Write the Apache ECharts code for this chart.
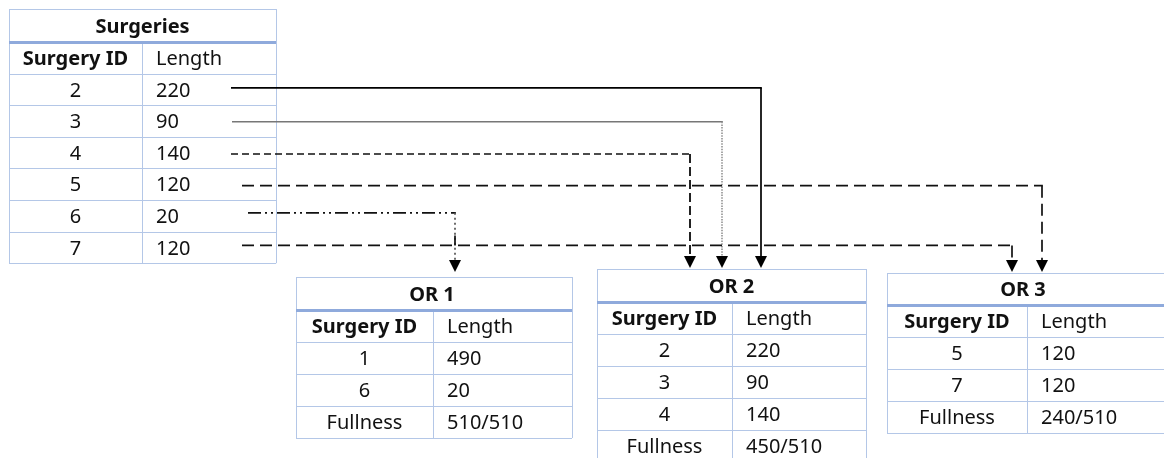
<!DOCTYPE html>
<html><head><meta charset="utf-8">
<script src="https://cdn.jsdelivr.net/npm/echarts@6/dist/echarts.min.js"></script>
<style>html,body{margin:0;padding:0;background:#fff}#c{width:1164px;height:458px}</style>
</head><body><div id="c"></div>
<script>
// ---------------- data ----------------
const surgeryIds = ['2', '3', '4', '5', '6', '7'];
const surgeryLengths = [220, 90, 140, 120, 20, 120];
const orNames = ['OR 1', 'OR 2', 'OR 3'];
const or1Ids = ['1', '6'];
const or1Lengths = [490, 20];
const or2Ids = ['2', '3', '4'];
const or2Lengths = [220, 90, 140];
const or3Ids = ['5', '7'];
const or3Lengths = [120, 120];
const orFullness = ['510/510', '450/510', '240/510'];
const assignedOR = [1, 1, 1, 2, 0, 2];       // surgery -> OR index
const headerLabels = ['Surgery ID', 'Length'];
const fullnessLabel = 'Fullness';
const surgeriesTitle = 'Surgeries';

// ---------------- layout / style ----------------
const tableLayout = [
  { left: 9,   right: 276,  col: 142,  top: 9,   titleH: 33, rowH: 31.6 },
  { left: 296, right: 572,  col: 433,  top: 277, titleH: 33, rowH: 32 },
  { left: 597, right: 866,  col: 732,  top: 269, titleH: 33, rowH: 32 },
  { left: 887, right: 1175, col: 1027, top: 273, titleH: 32, rowH: 32 }
];
const tableContent = [
  { title: surgeriesTitle, ids: surgeryIds, lens: surgeryLengths, full: null },
  { title: orNames[0], ids: or1Ids, lens: or1Lengths, full: orFullness[0] },
  { title: orNames[1], ids: or2Ids, lens: or2Lengths, full: orFullness[1] },
  { title: orNames[2], ids: or3Ids, lens: or3Lengths, full: orFullness[2] }
];
const connLayout = [
  { startX: 231, turnX: 761,  dy: -1.5, gap: 1, tick: false, h: { c: '#000', w: 1.7, d: null },          v: { c: '#000', w: 1.7, d: null } },
  { startX: 232, turnX: 722,  dy: 0.7,  gap: 1, tick: false, h: { c: '#777', w: 1.5, d: null },          v: { c: '#999', w: 1.7, d: [1.5, 1.2] } },
  { startX: 231, turnX: 690,  dy: 1.4,  gap: 1, tick: false, h: { c: '#111', w: 1.7, d: [7, 4] },        v: { c: '#222', w: 2, d: [9, 4] } },
  { startX: 242, turnX: 1042, dy: 1.5,  gap: 1, tick: false, h: { c: '#111', w: 1.7, d: [12, 6] },       v: { c: '#111', w: 1.7, d: [12, 6] } },
  { startX: 248, turnX: 455,  dy: -3,   gap: 5, tick: true,  h: { c: '#111', w: 1.7, d: [13, 4, 2, 4, 2, 4] }, v: { c: '#555', w: 1.7, d: [2, 3] } },
  { startX: 242, turnX: 1012, dy: -2,   gap: 1, tick: false, h: { c: '#111', w: 1.7, d: [12, 6] },       v: { c: '#111', w: 1.7, d: [12, 6] } }
];
const BORDER = '#B4C7E7';
const BORDER_STRONG = '#8FAADC';
const TXT = '#111';
const FONT = '"Noto Sans", sans-serif';
const FS = 20;

function rowEdges(L, nRows) {
  const e = [L.top, L.top + L.titleH];
  for (let k = 1; k <= nRows + 1; k++) e.push(L.top + L.titleH + k * L.rowH);
  return e;
}

function renderTable(params, api) {
  const i = params.dataIndex;
  const L = tableLayout[i], C = tableContent[i];
  const rows = [];
  C.ids.forEach((id, k) => rows.push([id, String(C.lens[k])]));
  if (C.full) rows.push([fullnessLabel, C.full]);
  const edges = rowEdges(L, rows.length);
  const P = (x, y) => api.coord([x, y]);
  const ch = [];
  const hline = (y, c, w) => {
    const a = P(L.left, y), b = P(L.right, y);
    const yy = w % 2 ? Math.round(a[1]) + 0.5 : Math.round(a[1]);
    ch.push({ type: 'line', shape: { x1: a[0], y1: yy, x2: b[0], y2: yy }, style: { stroke: c, lineWidth: w } });
  };
  const vline = (x, y1, y2) => {
    const a = P(x, y1), b = P(x, y2);
    const xx = Math.round(a[0]) + 0.5;
    ch.push({ type: 'line', shape: { x1: xx, y1: a[1], x2: xx, y2: b[1] }, style: { stroke: BORDER, lineWidth: 1 } });
  };
  const bottom = edges[edges.length - 1];
  edges.forEach((y, k) => { if (k !== 1) hline(y, BORDER, 1); });
  vline(L.left, L.top, bottom);
  vline(L.right, L.top, bottom);
  vline(L.col, edges[1], bottom);
  hline(edges[1], BORDER_STRONG, 3);
  const text = (s, x, y, align, bold) => {
    const p = P(x, y);
    ch.push({ type: 'text', style: { text: s, x: p[0], y: p[1], align: align, verticalAlign: 'middle',
      fontFamily: FONT, fontSize: FS, fontWeight: bold ? 'bold' : 'normal', fill: TXT } });
  };
  const c1 = (L.left + L.col) / 2, c2x = L.col + 14;
  text(C.title, (L.left + Math.min(L.right, L.left + 272)) / 2, (edges[0] + edges[1]) / 2 + 1.5, 'center', true);
  const hy = (edges[1] + edges[2]) / 2 + 1.5;
  text(headerLabels[0], c1, hy, 'center', true);
  text(headerLabels[1], c2x, hy, 'left', false);
  rows.forEach((r, k) => {
    const y = (edges[k + 2] + edges[k + 3]) / 2 + 1.5;
    text(r[0], c1, y, 'center', false);
    text(r[1], c2x, y, 'left', false);
  });
  return { type: 'group', children: ch };
}

function rowY(i) {
  const L0 = tableLayout[0];
  return L0.top + L0.titleH + L0.rowH * (i + 1.5) + connLayout[i].dy;
}

function renderConn(params, api) {
  const i = params.dataIndex;
  const s = connLayout[i];
  const y = rowY(i);
  const T = tableLayout[assignedOR[i] + 1];
  const tip = T.top - s.gap, ah = 12, aw = 12;
  const p0 = api.coord([s.startX, y]), p1 = api.coord([s.turnX, y]);
  const p2 = api.coord([s.turnX, tip - ah]), p3 = api.coord([s.turnX, tip]);
  const ch = [
    { type: 'line', shape: { x1: p0[0], y1: p0[1], x2: p1[0] + s.v.w / 2, y2: p1[1] }, style: { stroke: s.h.c, lineWidth: s.h.w, lineDash: s.h.d } },
    { type: 'line', shape: { x1: p1[0], y1: p1[1], x2: p2[0], y2: p2[1] }, style: { stroke: s.v.c, lineWidth: s.v.w, lineDash: s.v.d } },
    { type: 'polygon', shape: { points: [[p3[0] - aw / 2, p2[1]], [p3[0] + aw / 2, p2[1]], [p3[0], p3[1]]] }, style: { fill: '#000' } }
  ];
  // solid tick where the OR 1 drop crosses the next connector row
  if (s.tick && i + 1 < connLayout.length) {
    const yj = rowY(i + 1);
    const a = api.coord([s.turnX, yj - 10]), b = api.coord([s.turnX, yj]);
    ch.push({ type: 'line', shape: { x1: a[0], y1: a[1], x2: b[0], y2: b[1] }, style: { stroke: '#111', lineWidth: 1.7 } });
  }
  return { type: 'group', children: ch };
}

const chart = echarts.init(document.getElementById('c'), null, { renderer: 'canvas' });
chart.setOption({
  animation: false,
  backgroundColor: '#fff',
  grid: { left: 0, right: 0, top: 0, bottom: 0 },
  xAxis: { type: 'value', min: 0, max: 1164, show: false },
  yAxis: { type: 'value', min: 0, max: 458, inverse: true, show: false },
  series: [
    { type: 'custom', name: 'tables', clip: false, silent: true, renderItem: renderTable,
      data: tableContent.map((t, i) => [i, 0]) },
    { type: 'custom', name: 'connectors', clip: false, silent: true, renderItem: renderConn,
      data: surgeryIds.map((id, i) => [i, 0]) }
  ]
});
</script></body></html>
